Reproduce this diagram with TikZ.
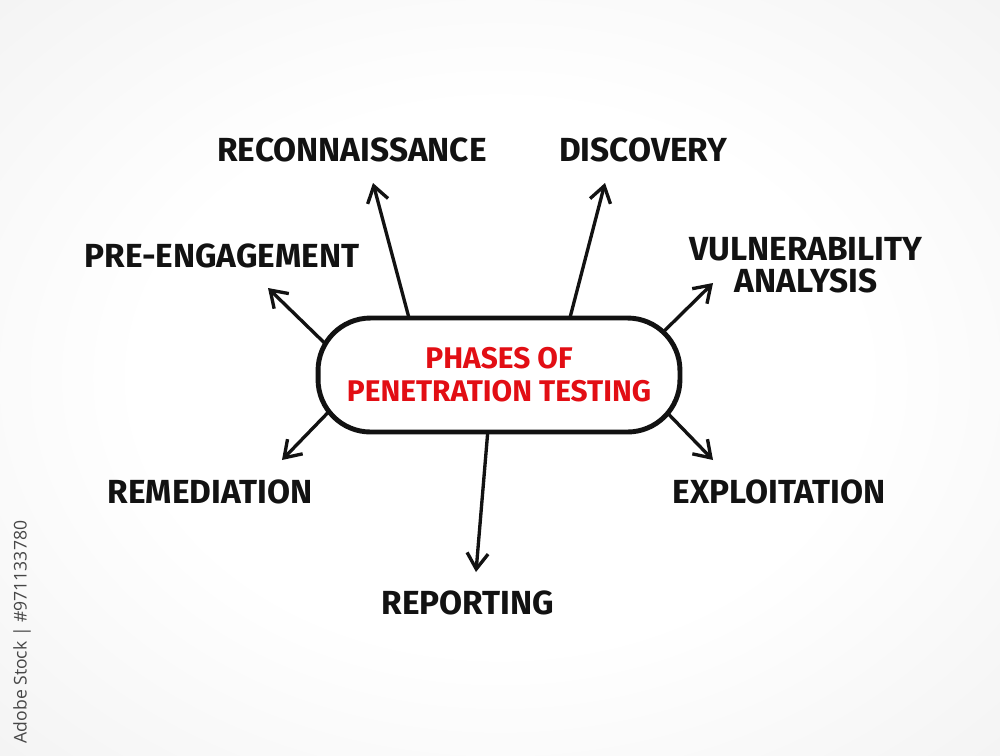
\documentclass[tikz,border=0pt]{standalone}
\usepackage{fontspec}
\setmainfont{Fira Sans}
\newfontfamily\wmfont{Open Sans}
\usetikzlibrary{arrows.meta}
\pgfdeclarelayer{bg}
\pgfdeclarelayer{links}
\pgfsetlayers{bg,links,main}
\definecolor{phasered}{RGB}{226,14,20}
\definecolor{ink}{RGB}{18,18,18}
\definecolor{wmgray}{RGB}{70,70,70}
\pgfdeclareradialshading{paperglow}{\pgfpoint{0bp}{0bp}}{color(0bp)=(white); color(18bp)=(white); color(50bp)=(black!8); color(72bp)=(black!12)}
\begin{document}
\begin{tikzpicture}[x=0.02cm, y=-0.02cm,
  phase/.style={font=\bfseries\fontsize{19}{18.5}\selectfont, text=ink, inner sep=0pt, align=center},
  hub/.style={draw=ink, line width=2.8pt, fill=white, rounded corners=1.05cm,
    minimum width=7.24cm, minimum height=2.28cm, text=phasered,
    font=\bfseries\fontsize{17}{18.7}\selectfont, align=center},
  link/.style={draw=ink, line width=1.9pt, line cap=round,
    -{Straight Barb[length=9pt,width=12pt]}}]
\useasboundingbox (0,0) rectangle (1000,755);
\begin{pgfonlayer}{bg}
  \shade[shading=paperglow] (0,0) rectangle (1000,755);
\end{pgfonlayer}

% hub
\node[hub] (box) at (499,375) {PHASES OF\\PENETRATION TESTING};

% phase labels
\node[phase] (recon) at (352,150) {RECONNAISSANCE};
\node[phase] (disc)  at (643,150) {DISCOVERY};
\node[phase] (pre)   at (222,256) {PRE-ENGAGEMENT};
\node[phase] (vuln)  at (806,265) {VULNERABILITY\\ANALYSIS};
\node[phase] (rem)   at (210,492) {REMEDIATION};
\node[phase] (expl)  at (779,492) {EXPLOITATION};
\node[phase] (rep)   at (468,603) {REPORTING};

% arrow tips
\coordinate (tRecon) at (373,183);
\coordinate (tDisc)  at (605,183);
\coordinate (tPre)   at (268,288);
\coordinate (tVuln)  at (713,283);
\coordinate (tRem)   at (282,460);
\coordinate (tExpl)  at (713,460);
\coordinate (tRep)   at (476,572);

\begin{pgfonlayer}{links}
  \draw[link] ([shift={(-86,-42)}]box.center) -- (tRecon);
  \draw[link] ([shift={(67,-42)}]box.center) -- (tDisc);
  \draw[link] ([shift={(-158,-16)}]box.center) -- (tPre);
  \draw[link] ([shift={(152,-31)}]box.center) -- (tVuln);
  \draw[link] ([shift={(-155,21)}]box.center) -- (tRem);
  \draw[link] ([shift={(152,21)}]box.center) -- (tExpl);
  \draw[link] ([shift={(-10,42)}]box.center) -- (tRep);
\end{pgfonlayer}

% stock id
\node[rotate=90, text=wmgray, font=\wmfont\fontsize{10}{12}\selectfont, inner sep=0pt] (stockid) at (22,632) {Adobe Stock | \#971133780};
\end{tikzpicture}
\end{document}
